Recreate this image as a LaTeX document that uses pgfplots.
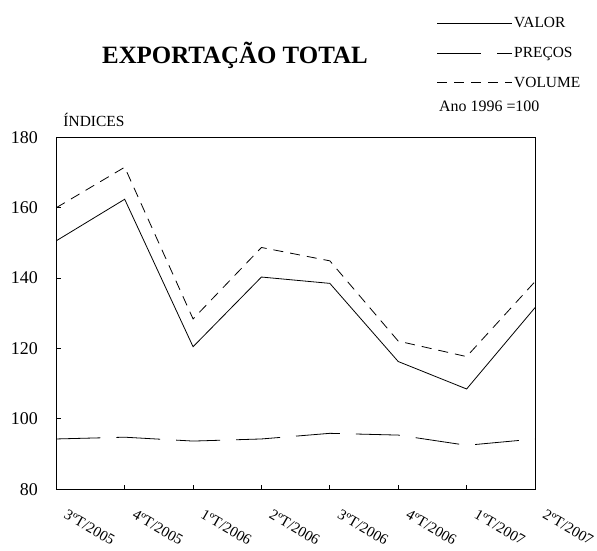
\documentclass[border=0pt]{standalone}
\usepackage{fontspec}
\setmainfont{Liberation Serif}
\usepackage{pgfplots}
\pgfplotsset{compat=1.18}

\begin{document}
\begin{tikzpicture}
\begin{axis}[
    at={(0,0)}, anchor=south west,
    scale only axis, width=478.7bp, height=352bp,
    xmin=0, xmax=7, ymin=80, ymax=180,
    xtick={0,...,7},
    xticklabels={3ºT/2005,4ºT/2005,1ºT/2006,2ºT/2006,3ºT/2006,4ºT/2006,1ºT/2007,2ºT/2007},
    ytick={80,100,...,180},
    tick align=inside, xtick pos=bottom, ytick pos=left,
    major tick length=4.5bp,
    tick style={black, line width=0.8bp},
    axis line style={line width=1bp},
    /pgf/number format/assume math mode=true,
    yticklabel style={font=\fontsize{18}{18}\selectfont, xshift=-15bp},
    xticklabel style={font=\fontsize{15}{15}\selectfont, rotate=-30, anchor=north west,
        inner sep=0pt, xshift=20bp, yshift=-11.2bp},
    legend style={draw=none, fill=none, at={(0.7947,1.345)}, anchor=north west,
        inner sep=0pt, row sep=15bp, font=\fontsize{15.5}{15.5}\selectfont,
        nodes={inner sep=1.5bp}},
    legend cell align=left,
    legend image code/.code={\draw[#1] (0bp,0bp) -- (75bp,0bp);},
]
% VALOR
\addplot[black, line width=0.8bp] coordinates {
    (0,150.6) (1,162.4) (2,120.5) (3,140.3) (4,138.5) (5,116.3) (6,108.5) (7,131.6)
};
\addlegendentry{VALOR}
% PREÇOS
\addplot[black, line width=0.8bp, dash pattern=on 44bp off 16bp] coordinates {
    (0,94.3) (1,94.8) (2,93.7) (3,94.3) (4,95.9) (5,95.4) (6,92.5) (7,94.3)
};
\addlegendentry{PREÇOS}
% VOLUME
\addplot[black, line width=0.8bp, dash pattern=on 10bp off 7bp] coordinates {
    (0,160.0) (1,171.5) (2,128.4) (3,148.7) (4,144.9) (5,122.1) (6,117.7) (7,139.0)
};
\addlegendentry{VOLUME}
\end{axis}
\node[anchor=base, font=\fontsize{25}{25}\selectfont\bfseries] at (178.6bp,426bp) {EXPORTAÇÃO TOTAL};
\node[anchor=base west, inner sep=0pt, font=\fontsize{15.5}{15.5}\selectfont] at (7bp,363bp) {ÍNDICES};
\node[anchor=base west, inner sep=0pt, font=\fontsize{16}{16}\selectfont] at (382.7bp,377.3bp) {Ano 1996 =100};
\useasboundingbox (-56.3bp,-61.7bp) rectangle (540.7bp,489.3bp);
\end{tikzpicture}
\end{document}
